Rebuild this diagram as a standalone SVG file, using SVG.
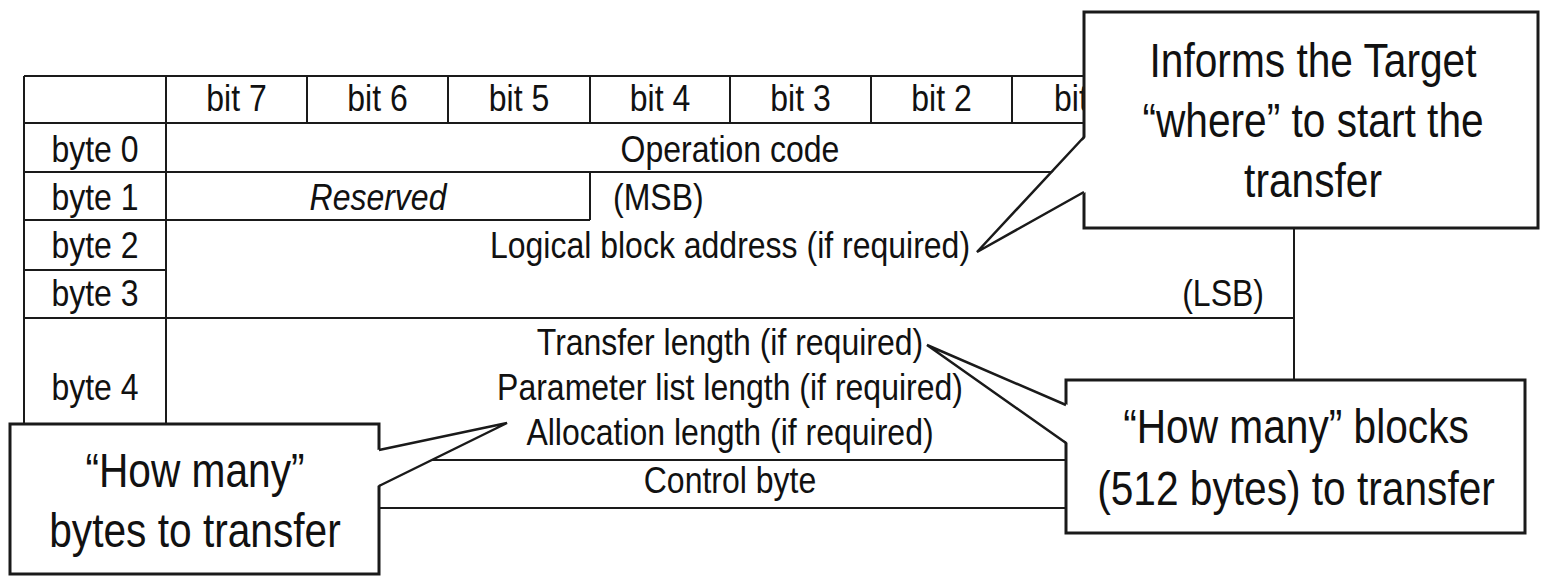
<svg xmlns="http://www.w3.org/2000/svg" width="1541" height="576" viewBox="0 0 1541 576">
<style>
.bg{fill:#ffffff}
.ln{stroke:#1a1a1a;stroke-width:2;fill:none}
.t{font-family:"Liberation Sans",Arial,sans-serif;font-size:37px;fill:#111;text-anchor:middle}
.s{text-anchor:start}
.e{text-anchor:end}
.i{font-style:italic}
.box{fill:#ffffff;stroke:#1a1a1a;stroke-width:3}
.tail{fill:#ffffff;stroke:none}
.tl{fill:none;stroke:#1a1a1a;stroke-width:2.5;stroke-linejoin:miter}
.c{font-family:"Liberation Sans",Arial,sans-serif;font-size:49px;fill:#111;text-anchor:middle}
</style>
<rect class="bg" x="0" y="0" width="1541" height="576"/>
<g id="table">
  <g id="grid">
    <path class="ln" d="M24,76 H1294 M24,123 H1294 M24,172 H1294 M24,220 H590 M24,270 H166 M24,318 H1294 M24,460 H1294 M24,508 H1294"/>
    <path class="ln" d="M24,76 V508 M166,76 V508 M1294,76 V508 M590,172 V220 M307,76 V123 M448,76 V123 M590,76 V123 M730,76 V123 M871,76 V123 M1012,76 V123 M1153,76 V123"/>
  </g>
  <g id="header">
    <text class="t" transform="translate(236.5 111) scale(0.865 1)">bit 7</text>
    <text class="t" transform="translate(377.5 111) scale(0.865 1)">bit 6</text>
    <text class="t" transform="translate(519 111) scale(0.865 1)">bit 5</text>
    <text class="t" transform="translate(660 111) scale(0.865 1)">bit 4</text>
    <text class="t" transform="translate(800.5 111) scale(0.865 1)">bit 3</text>
    <text class="t" transform="translate(941.5 111) scale(0.865 1)">bit 2</text>
    <text class="t s" transform="translate(1054 111) scale(0.865 1)">bit</text>
  </g>
  <g id="rowlabels">
    <text class="t" transform="translate(95 162) scale(0.865 1)">byte 0</text>
    <text class="t" transform="translate(95 210) scale(0.865 1)">byte 1</text>
    <text class="t" transform="translate(95 258) scale(0.865 1)">byte 2</text>
    <text class="t" transform="translate(95 306) scale(0.865 1)">byte 3</text>
    <text class="t" transform="translate(95 400) scale(0.865 1)">byte 4</text>
  </g>
  <g id="fields">
    <text class="t" transform="translate(730 162) scale(0.865 1)">Operation code</text>
    <text class="t i" transform="translate(378 210) scale(0.865 1)">Reserved</text>
    <text class="t s" transform="translate(613 210) scale(0.865 1)">(MSB)</text>
    <text class="t" transform="translate(730 258) scale(0.865 1)">Logical block address (if required)</text>
    <text class="t e" transform="translate(1264 306) scale(0.865 1)">(LSB)</text>
    <text class="t" transform="translate(730 355) scale(0.865 1)">Transfer length (if required)</text>
    <text class="t" transform="translate(730 400) scale(0.865 1)">Parameter list length (if required)</text>
    <text class="t" transform="translate(730 445) scale(0.865 1)">Allocation length (if required)</text>
    <text class="t" transform="translate(730 493) scale(0.865 1)">Control byte</text>
  </g>
</g>
<g id="callout-where">
  <rect class="box" x="1084" y="12" width="454" height="216"/>
  <text class="c" transform="translate(1313 77) scale(0.83 1)">Informs the Target</text>
  <text class="c" transform="translate(1313 137) scale(0.83 1)">“where” to start the</text>
  <text class="c" transform="translate(1313 197) scale(0.83 1)">transfer</text>
</g>
<g id="callout-blocks">
  <rect class="box" x="1066" y="380" width="459" height="153"/>
  <text class="c" transform="translate(1296 443) scale(0.83 1)">“How many” blocks</text>
  <text class="c" transform="translate(1296 505) scale(0.83 1)">(512 bytes) to transfer</text>
</g>
<g id="callout-bytes">
  <rect class="box" x="10" y="424" width="369" height="150"/>
  <text class="c" transform="translate(195 487) scale(0.83 1)">“How many”</text>
  <text class="c" transform="translate(195 547) scale(0.83 1)">bytes to transfer</text>
</g>
<g id="connectors">
  <polygon class="tail" points="1086,137 977,252 1086,192"/>
  <polyline class="tl" points="1084,137 977,252 1084,192"/>
  <polygon class="tail" points="1068,405 927,345 1068,443"/>
  <polyline class="tl" points="1066,405 927,345 1066,443"/>
  <polygon class="tail" points="377,450 507,423 377,486"/>
  <polyline class="tl" points="379,450 507,423 379,486"/>
</g>
</svg>
